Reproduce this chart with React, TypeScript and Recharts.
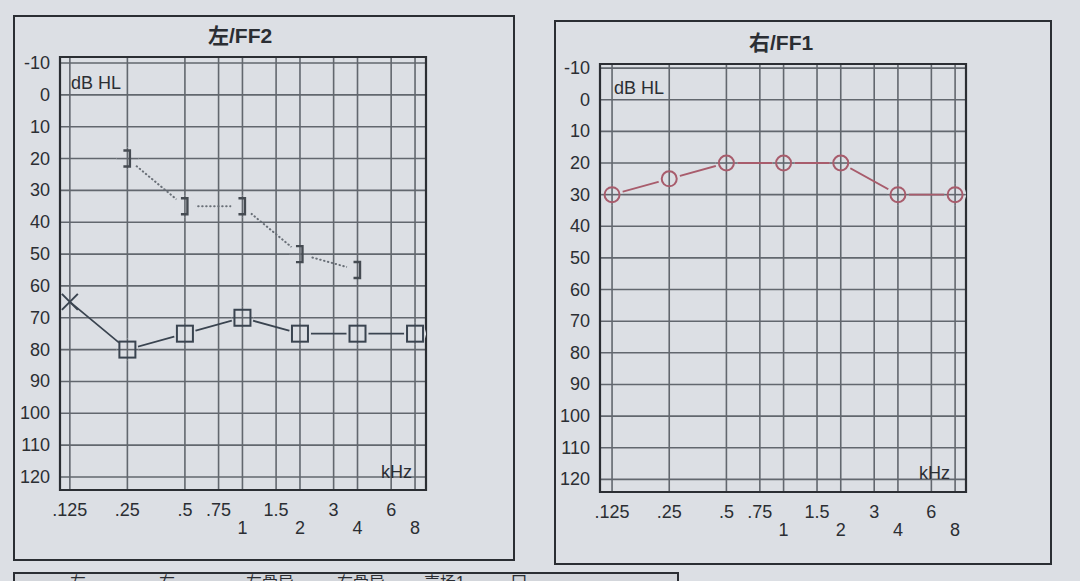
import { LineChart, Line, XAxis, YAxis, CartesianGrid, ReferenceArea } from "recharts";

const FREQ_TICKS = [0.125, 0.25, 0.5, 0.75, 1, 1.5, 2, 3, 4, 6, 8];
const FREQ_LABELS = [".125", ".25", ".5", ".75", "1", "1.5", "2", "3", "4", "6", "8"];
const LOWER_ROW = [1, 2, 4, 8];
const DB_TICKS = [-10, 0, 10, 20, 30, 40, 50, 60, 70, 80, 90, 100, 110, 120];

// 左 / FF2
const leftFreqs = [0.125, 0.25, 0.5, 1, 2, 4, 8];
const leftAir = [65, 80, 75, 70, 75, 75, 75];
const leftSymbols = ["x", "square", "square", "square", "square", "square", "square"];
const leftBoneFreqs = [0.25, 0.5, 1, 2, 4];
const leftBone = [20, 35, 35, 50, 55];

// 右 / FF1
const rightFreqs = [0.125, 0.25, 0.5, 1, 2, 4, 8];
const rightAir = [30, 25, 20, 20, 20, 30, 30];

const PAPER = "#dcdfe4";
const INK = "#2b2e33";
const GRID = "#62676e";
const SLATE = "#3a4450";
const ROSE = "#a85c6c";
const FONT = '"Liberation Sans", Arial, "Noto Sans CJK SC", sans-serif';

const leftAirData = leftFreqs.map((f, i) => ({ f, db: leftAir[i], sym: leftSymbols[i] }));
const leftBoneData = leftBoneFreqs.map((f, i) => ({ f, db: leftBone[i], sym: "bracket" }));
const rightAirData = rightFreqs.map((f, i) => ({ f, db: rightAir[i], sym: "circle" }));

// marker with a small paper-coloured gap around it (like the printed audiogram)
const marker = (color: string) => (p: any) => {
  const { cx, cy, payload, index } = p;
  if (cx == null || cy == null) return <g key={index} />;
  const sym = payload.sym;
  const gap = sym === "x" ? 0 : 11;
  return (
    <g key={index}>
      {gap > 0 && (
        <>
          <circle cx={cx} cy={cy} r={gap} fill={PAPER} />
          <line x1={cx} x2={cx} y1={cy - gap} y2={cy + gap} stroke={GRID} strokeWidth={1.6} />
          {payload.db % 10 === 0 && (
            <line x1={cx - gap} x2={cx + gap} y1={cy} y2={cy} stroke={GRID} strokeWidth={1.6} />
          )}
        </>
      )}
      {sym === "x" && (
        <path
          d={`M${cx - 8},${cy - 8}L${cx + 8},${cy + 8}M${cx - 8},${cy + 8}L${cx + 8},${cy - 8}`}
          stroke={color}
          strokeWidth={2}
          fill="none"
        />
      )}
      {sym === "square" && (
        <rect x={cx - 8} y={cy - 8} width={16} height={16} stroke={color} strokeWidth={2} fill="none" />
      )}
      {sym === "circle" && <circle cx={cx} cy={cy} r={7.5} stroke={color} strokeWidth={2} fill="none" />}
      {sym === "bracket" && (
        <path
          d={`M${cx - 4},${cy - 8}L${cx + 2.5},${cy - 8}L${cx + 2.5},${cy + 8}L${cx - 4},${cy + 8}`}
          stroke={color}
          strokeWidth={2.4}
          fill="none"
        />
      )}
    </g>
  );
};

const FreqTick = (p: any) => {
  const v = p.payload.value;
  const i = FREQ_TICKS.indexOf(v);
  const lower = LOWER_ROW.includes(v);
  return (
    <text x={p.x} y={p.y} dy={lower ? 44 : 26} textAnchor="middle" fontSize={18} fill={INK} fontFamily={FONT}>
      {FREQ_LABELS[i]}
    </text>
  );
};

const DbTick = (p: any) => (
  <text x={p.x} y={p.y} dy={6} textAnchor="end" fontSize={18} fill={INK} fontFamily={FONT}>
    {p.payload.value}
  </text>
);

function Audiogram({
  left,
  top,
  bottom,
  xDomain,
  yDomain,
  children,
}: {
  left: number;
  top: number;
  bottom: number;
  xDomain: [number, number];
  yDomain: [number, number];
  children: any;
}) {
  return (
    <div style={{ position: "absolute", left, top: 0 }}>
      <LineChart width={540} height={581} margin={{ top, right: 114, left: 10, bottom }}>
        <CartesianGrid stroke={GRID} strokeWidth={1.6} />
        <ReferenceArea
          x1={xDomain[0]}
          x2={xDomain[1]}
          y1={yDomain[0]}
          y2={yDomain[1]}
          fill="none"
          stroke={INK}
          strokeWidth={2.2}
          ifOverflow="visible"
        />
        <XAxis
          dataKey="f"
          type="number"
          scale="log"
          domain={xDomain}
          ticks={FREQ_TICKS}
          allowDataOverflow
          axisLine={false}
          tickLine={false}
          tickSize={0}
          tickMargin={0}
          height={45}
          interval={0}
          tick={FreqTick}
        />
        <YAxis
          type="number"
          reversed
          domain={yDomain}
          ticks={DB_TICKS}
          allowDataOverflow
          axisLine={false}
          tickLine={false}
          tickSize={0}
          tickMargin={10}
          width={50}
          interval={0}
          tick={DbTick}
        />
        {children}
      </LineChart>
    </div>
  );
}

const label = (text: string, x: number, y: number, size: number, bold = false) => (
  <div
    style={{
      position: "absolute",
      left: x,
      top: y - size / 2 - 2,
      fontSize: size,
      lineHeight: `${size + 4}px`,
      fontWeight: bold ? 700 : 400,
      color: INK,
      whiteSpace: "nowrap",
    }}
  >
    {text}
  </div>
);

export default function App() {
  return (
    <div
      style={{
        position: "absolute",
        left: 0,
        top: 0,
        width: 1080,
        height: 581,
        overflow: "hidden",
        background: PAPER,
        fontFamily: FONT,
      }}
    >
      <div style={{ position: "absolute", left: 13, top: 15, width: 498, height: 542, border: `2px solid ${INK}` }} />
      <div style={{ position: "absolute", left: 554, top: 20, width: 494, height: 541, border: `2px solid ${INK}` }} />
      <div
        style={{
          position: "absolute",
          left: 13,
          top: 572,
          width: 662,
          height: 30,
          border: `2px solid ${INK}`,
          background: "#d3d6db",
        }}
      />
      {[
        ["左", 70],
        ["右", 159],
        ["左骨导", 246],
        ["右骨导", 337],
        ["声场1", 424],
        ["囗", 511],
      ].map(([t, x]) => (
        <div
          key={t as string}
          style={{ position: "absolute", left: x as number, top: 575, fontSize: 16, lineHeight: "16px", color: INK }}
        >
          {t}
        </div>
      ))}

      <Audiogram left={0} top={57} bottom={46} xDomain={[0.111, 9.13]} yDomain={[-11.9, 124.1]}>
        <Line
          data={leftBoneData}
          dataKey="db"
          type="linear"
          stroke="#6a7078"
          strokeWidth={2}
          strokeDasharray="0.5 3.5"
          strokeLinecap="round"
          dot={marker("#454b52")}
          activeDot={false}
          isAnimationActive={false}
        />
        <Line
          data={leftAirData}
          dataKey="db"
          type="linear"
          stroke={SLATE}
          strokeWidth={1.8}
          dot={marker(SLATE)}
          activeDot={false}
          isAnimationActive={false}
        />
      </Audiogram>

      <Audiogram left={540} top={64} bottom={44} xDomain={[0.108, 9.13]} yDomain={[-11.3, 124]}>
        <Line
          data={rightAirData}
          dataKey="db"
          type="linear"
          stroke={ROSE}
          strokeWidth={1.8}
          dot={marker(ROSE)}
          activeDot={false}
          isAnimationActive={false}
        />
      </Audiogram>

      {label("左/FF2", 208, 35, 21, true)}
      {label("右/FF1", 749, 42, 21, true)}
      {label("dB HL", 71, 83, 18)}
      {label("dB HL", 614, 88, 18)}
      {label("kHz", 381, 472, 18)}
      {label("kHz", 919, 473, 18)}
    </div>
  );
}
